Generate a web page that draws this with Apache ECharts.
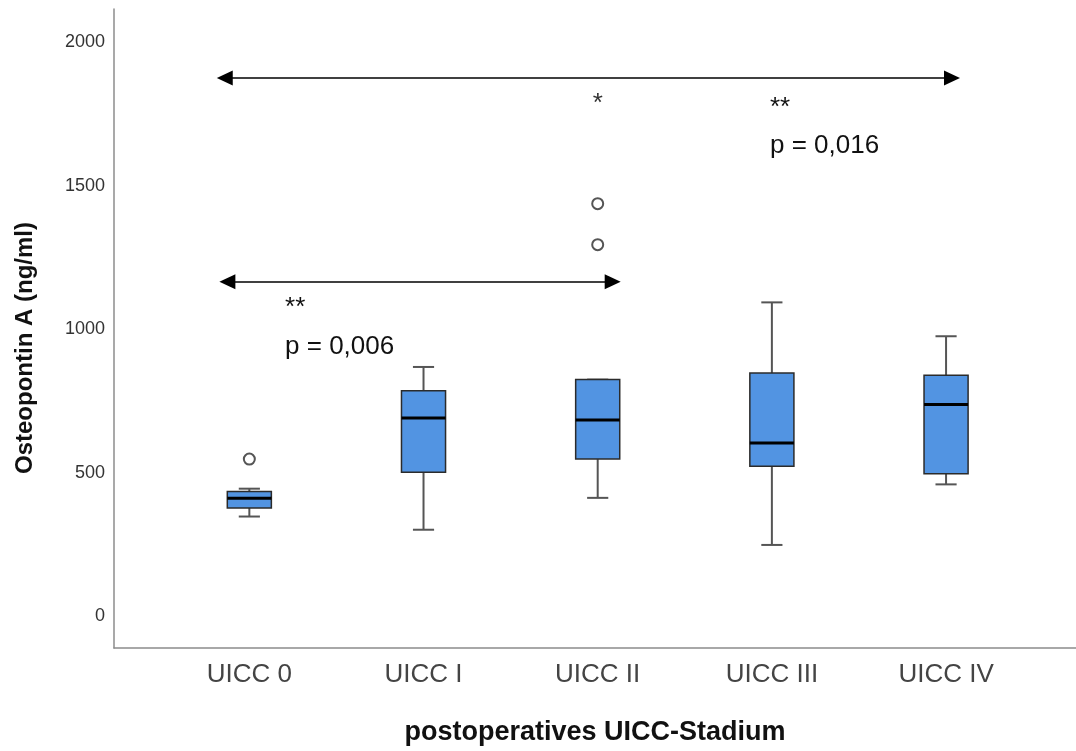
<!DOCTYPE html>
<html>
<head>
<meta charset="utf-8">
<script src="https://cdn.jsdelivr.net/npm/echarts@6/dist/echarts.min.js"></script>
<style>
  html, body { margin: 0; padding: 0; background: #fff; }
  #chart { width: 1076px; height: 751px; }
</style>
</head>
<body>
<div id="chart"></div>
<script>
// Osteopontin A by postoperative UICC stage
const categories = ['UICC 0', 'UICC I', 'UICC II', 'UICC III', 'UICC IV'];
const whiskerLow = [348, 302, 413, 249, 460];
const quartile1 = [378, 502, 548, 523, 497];
const medians = [412, 691, 684, 604, 738];
const quartile3 = [435, 786, 825, 848, 840];
const whiskerHigh = [445, 869, 825, 1094, 976];
// [category index, value]
const outliers = [[0, 548], [2, 1295], [2, 1438]];
const extremes = [[2, 1806]];
const yTicks = [0, 500, 1000, 1500, 2000];

// significance arrows: [x start, x end, level] in category units
const arrows = [[-0.141, 4.034, 1876], [-0.126, 2.086, 1166]];
// significance notes: [x, level, text]
const notes = [
  [2.989, 1772, '**'], [2.989, 1640, 'p = 0,016'],
  [0.205, 1075, '**'], [0.205, 940, 'p = 0,006']
];

const FONT = "'Liberation Sans', Arial, Helvetica, sans-serif";

function renderBox(params, api) {
  const x = api.value(0);
  const low = api.coord([x, api.value(1)]);
  const q1 = api.coord([x, api.value(2)]);
  const med = api.coord([x, api.value(3)]);
  const q3 = api.coord([x, api.value(4)]);
  const high = api.coord([x, api.value(5)]);
  const unit = api.size([1, 0])[0];
  const bw = unit * 0.253;
  const cw = bw * 0.48;
  const cx = low[0];
  const whisker = { stroke: '#555', lineWidth: 2 };
  return {
    type: 'group',
    children: [
      { type: 'line', shape: { x1: cx, y1: high[1], x2: cx, y2: q3[1] }, style: whisker },
      { type: 'line', shape: { x1: cx, y1: q1[1], x2: cx, y2: low[1] }, style: whisker },
      { type: 'line', shape: { x1: cx - cw / 2, y1: high[1], x2: cx + cw / 2, y2: high[1] }, style: whisker },
      { type: 'line', shape: { x1: cx - cw / 2, y1: low[1], x2: cx + cw / 2, y2: low[1] }, style: whisker },
      { type: 'rect', shape: { x: cx - bw / 2, y: q3[1], width: bw, height: q1[1] - q3[1] },
        style: { fill: '#5294e2', stroke: '#2b2b2b', lineWidth: 1.5 } },
      { type: 'line', shape: { x1: cx - bw / 2, y1: med[1], x2: cx + bw / 2, y2: med[1] },
        style: { stroke: '#000', lineWidth: 3 } }
    ]
  };
}

const chart = echarts.init(document.getElementById('chart'), null, { renderer: 'canvas' });

chart.setOption({
  animation: false,
  backgroundColor: '#fff',
  textStyle: { fontFamily: FONT },
  grid: { left: 114, right: 0, top: 9, bottom: 103, outerBoundsMode: 'none' },
  xAxis: {
    type: 'value',
    min: -0.777,
    max: 4.746,
    axisLine: { onZero: false, lineStyle: { color: '#8c8c8c', width: 1.5 } },
    axisTick: { show: false },
    splitLine: { show: false },
    axisLabel: {
      customValues: categories.map((c, i) => i),
      formatter: v => categories[Math.round(v)],
      fontSize: 26,
      color: '#444',
      margin: 14,
      fontFamily: FONT
    },
    name: 'postoperatives UICC-Stadium',
    nameLocation: 'middle',
    nameGap: 71,
    nameTextStyle: { fontSize: 27, fontWeight: 'bold', color: '#111', fontFamily: FONT }
  },
  yAxis: {
    type: 'value',
    min: -110,
    max: 2116,
    axisLine: { show: true, onZero: false, lineStyle: { color: '#8c8c8c', width: 1.5 } },
    axisTick: { show: false },
    splitLine: { show: false },
    axisLabel: {
      customValues: yTicks,
      formatter: v => String(v),
      fontSize: 18,
      color: '#333',
      margin: 9,
      fontFamily: FONT
    }
  },
  graphic: [{
    type: 'text',
    x: 25,
    y: 348,
    rotation: Math.PI / 2,
    style: {
      text: 'Osteopontin A (ng/ml)',
      font: "bold 24px 'Liberation Sans', Arial, sans-serif",
      fill: '#111',
      align: 'center',
      verticalAlign: 'middle'
    }
  }],
  series: [
    {
      type: 'custom',
      name: 'Osteopontin A',
      renderItem: renderBox,
      encode: { x: 0, y: [1, 2, 3, 4, 5] },
      data: categories.map((c, i) => [i, whiskerLow[i], quartile1[i], medians[i], quartile3[i], whiskerHigh[i]]),
      z: 2
    },
    {
      type: 'scatter',
      name: 'outliers',
      symbol: 'circle',
      symbolSize: 11,
      itemStyle: { color: '#fff', borderColor: '#555', borderWidth: 2, opacity: 1 },
      data: outliers,
      z: 3
    },
    {
      type: 'scatter',
      name: 'extremes',
      symbolSize: 0,
      itemStyle: { opacity: 1 },
      label: {
        show: true,
        position: 'inside',
        formatter: '*',
        fontSize: 26,
        color: '#333',
        offset: [0, 6],
        fontFamily: FONT
      },
      data: extremes,
      z: 3
    },
    {
      type: 'scatter',
      name: 'notes',
      symbolSize: 0,
      silent: true,
      itemStyle: { opacity: 1 },
      label: {
        show: true,
        position: 'right',
        distance: 0,
        formatter: p => p.value[2],
        fontSize: 26,
        color: '#111',
        fontFamily: FONT
      },
      data: notes,
      markLine: {
        silent: true,
        symbol: ['triangle', 'triangle'],
        symbolSize: [15, 16],
        label: { show: false },
        lineStyle: { color: '#000', width: 1.5, type: 'solid' },
        itemStyle: { color: '#000' },
        data: arrows.map(a => [{ coord: [a[0], a[2]] }, { coord: [a[1], a[2]] }])
      },
      z: 4
    }
  ]
});
</script>
</body>
</html>
